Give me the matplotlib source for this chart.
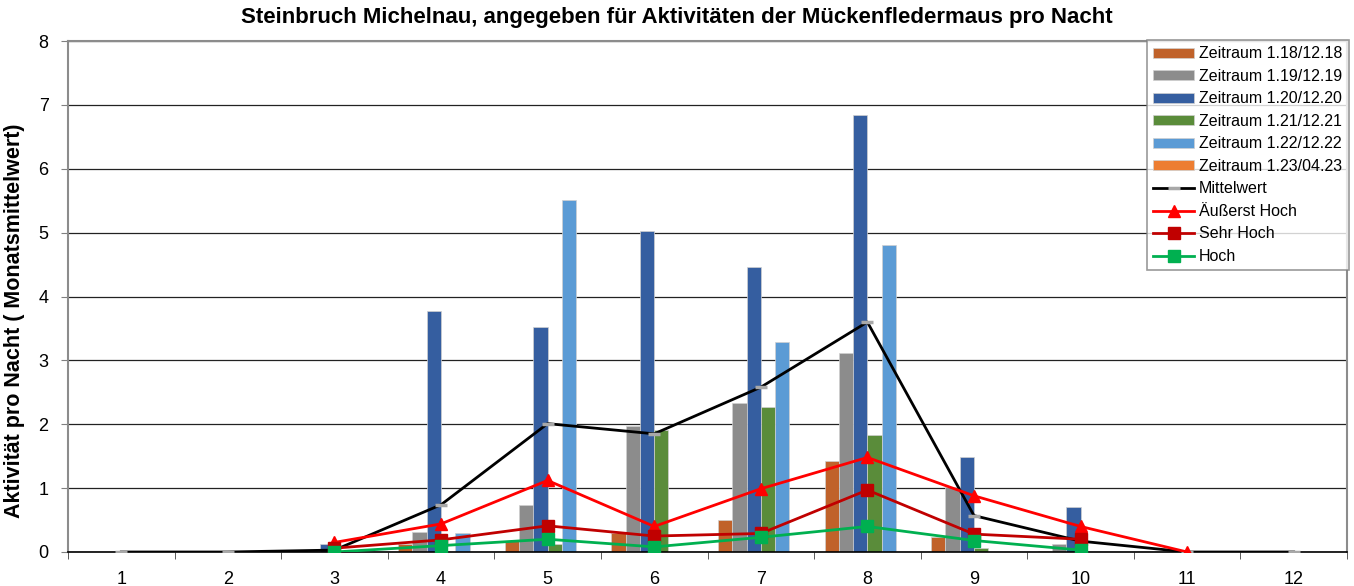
import numpy as np
import matplotlib.pyplot as plt
from matplotlib.ticker import MultipleLocator

plt.rcParams['font.family'] = ['Liberation Sans', 'DejaVu Sans']

# Monate 1..12
monate = np.arange(1, 13)
monat_labels = [str(m) for m in monate]

# Balken: Aktivität pro Nacht je Zeitraum
z_2018 = [0, 0, 0.02, 0.13, 0.18, 0.29, 0.50, 1.42, 0.24, 0.02, 0, 0]
z_2019 = [0, 0, 0, 0.32, 0.74, 1.97, 2.34, 3.12, 1.01, 0.13, 0, 0]
z_2020 = [0, 0, 0.12, 3.77, 3.52, 5.03, 4.46, 6.84, 1.49, 0.70, 0, 0]
z_2021 = [0, 0, 0, 0, 0.12, 1.91, 2.27, 1.83, 0.07, 0, 0, 0]
z_2022 = [0, 0, 0, 0.30, 5.51, 0, 3.29, 4.81, 0, 0, 0, 0]
z_2023 = [0, 0, 0, 0, np.nan, np.nan, np.nan, np.nan, np.nan, np.nan, np.nan, np.nan]

# Linien
mittelwert = [0, 0, 0.03, 0.74, 2.01, 1.85, 2.58, 3.60, 0.57, 0.17, 0, 0]
aeusserst_hoch = [np.nan, np.nan, 0.15, 0.44, 1.12, 0.40, 0.99, 1.48, 0.88, 0.40, 0, np.nan]
sehr_hoch = [np.nan, np.nan, 0.06, 0.19, 0.41, 0.25, 0.29, 0.97, 0.28, 0.20, np.nan, np.nan]
hoch = [np.nan, np.nan, 0, 0.10, 0.20, 0.08, 0.23, 0.40, 0.18, 0.03, np.nan, np.nan]

balken = [
    ("Zeitraum 1.18/12.18", z_2018, "#C0622A"),
    ("Zeitraum 1.19/12.19", z_2019, "#8C8C8C"),
    ("Zeitraum 1.20/12.20", z_2020, "#355EA0"),
    ("Zeitraum 1.21/12.21", z_2021, "#5A8C3A"),
    ("Zeitraum 1.22/12.22", z_2022, "#5B9BD5"),
    ("Zeitraum 1.23/04.23", z_2023, "#ED7D31"),
]

fig = plt.figure(figsize=(13.54, 5.86), dpi=100)
ax = fig.add_axes([68 / 1354, 34 / 586, 1279 / 1354, 511 / 586])

handles = []
breite = 0.134
for i, (name, werte, farbe) in enumerate(balken):
    b = ax.bar(monate + (i - 2.5) * breite, werte, width=breite, color=farbe,
               edgecolor="#d0d0d0", linewidth=0.5, label=name, zorder=2)
    handles.append(b)

l1, = ax.plot(monate, mittelwert, color="black", lw=2, marker="_", ms=9, mew=2.5,
              mec="#a8a8a8", label="Mittelwert", zorder=3)
l2, = ax.plot(monate, aeusserst_hoch, color="#FF0000", lw=2, marker="^", ms=8,
              label="Äußerst Hoch", zorder=4)
l3, = ax.plot(monate, sehr_hoch, color="#C00000", lw=2, marker="s", ms=8,
              label="Sehr Hoch", zorder=4)
l4, = ax.plot(monate, hoch, color="#00B050", lw=2, marker="s", ms=8,
              label="Hoch", zorder=4)
handles += [l1, l2, l3, l4]

ax.set_xlim(0.5, 12.5)
ax.set_ylim(0, 8)
ax.set_xticks(monate)
ax.set_xticklabels(monat_labels, fontsize=13)
ax.xaxis.set_minor_locator(MultipleLocator(1, offset=0.5))
ax.tick_params(axis="x", which="major", length=0, pad=14)
ax.tick_params(axis="x", which="minor", length=5, color="#404040", direction="out")
ax.yaxis.set_major_locator(MultipleLocator(1))
ax.tick_params(axis="y", labelsize=13, length=5, color="#808080", pad=9)

ax.grid(axis="y", color="#222222", lw=0.9, zorder=0)
ax.set_axisbelow(True)
for s in ["left", "right", "top"]:
    ax.spines[s].set_color("#8c8c8c")
    ax.spines[s].set_linewidth(1.5)
ax.spines["bottom"].set_color("black")
ax.spines["bottom"].set_linewidth(1.2)

ax.set_ylabel("Aktivität pro Nacht ( Monatsmittelwert)", fontsize=15.5,
              fontweight="bold")
ax.yaxis.set_label_coords(-0.034, 0.452)
fig.suptitle("Steinbruch Michelnau, angegeben für Aktivitäten der Mückenfledermaus pro Nacht",
             fontsize=16, fontweight="bold", x=0.5, y=1 - 7 / 586, va="top")

leg = ax.legend(handles=handles, loc="upper right",
                bbox_to_anchor=(1349 / 1354, 1 - 40 / 586),
                bbox_transform=fig.transFigure, fontsize=11.5, frameon=True,
                fancybox=False, edgecolor="#808080", handlelength=2.6,
                handleheight=0.55, labelspacing=0.47, borderpad=0.4,
                handletextpad=0.3, borderaxespad=0)
leg.get_frame().set_linewidth(1.2)

plt.savefig("out.png", dpi=100)
